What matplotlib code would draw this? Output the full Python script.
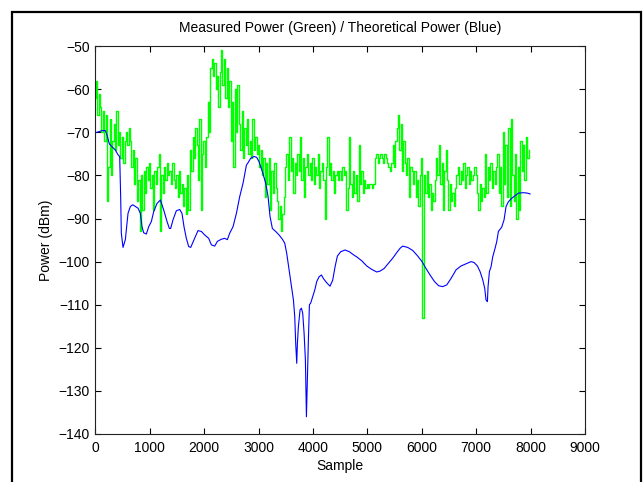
import numpy as np
import matplotlib
matplotlib.use("Agg")
import matplotlib.pyplot as plt
from matplotlib.patches import Rectangle

plt.rcParams['font.family'] = ['Liberation Sans', 'DejaVu Sans']

# ---------------- data ----------------
title = "Measured Power (Green) / Theoretical Power (Blue)"
x_label = "Sample"
y_label = "Power (dBm)"
x_ticks = [0, 1000, 2000, 3000, 4000, 5000, 6000, 7000, 8000, 9000]
y_ticks = [-140, -130, -120, -110, -100, -90, -80, -70, -60, -50]

# measured power, one value every 25 samples starting at sample 0
green_step = 25
measured_power = [
    -62, -58, -66, -61, -64, -70, -65, -72, -66, -86, -78, -67, -80, -72, -68, -74, -65, -73, -70, -76,
    -71, -77, -72, -70, -73, -69, -72, -78, -74, -82, -76, -86, -81, -93, -80, -88, -79, -84, -78, -81,
    -77, -83, -80, -88, -79, -82, -78, -75, -93, -80, -84, -78, -81, -77, -80, -79, -82, -77, -81, -83,
    -80, -85, -79, -84, -82, -87, -83, -89, -80, -88, -74, -79, -71, -76, -69, -73, -81, -67, -88, -75,
    -72, -78, -71, -63, -70, -55, -53, -57, -54, -60, -57, -64, -56, -51, -59, -53, -62, -55, -64, -58,
    -72, -63, -78, -60, -70, -59, -68, -74, -65, -76, -69, -73, -67, -75, -72, -76, -67, -74, -71, -75,
    -73, -78, -74, -80, -76, -85, -77, -82, -76, -88, -79, -84, -77, -83, -86, -90, -87, -93, -89, -85,
    -78, -75, -81, -71, -79, -76, -84, -77, -80, -75, -79, -71, -81, -76, -85, -78, -75, -80, -77, -81,
    -76, -82, -78, -80, -75, -83, -79, -77, -81, -90, -78, -71, -80, -77, -81, -79, -84, -80, -79, -81,
    -79, -81, -78, -80, -79, -88, -83, -71, -82, -85, -79, -84, -80, -86, -73, -82, -79, -84, -81, -83,
    -82, -83, -82, -82, -83, -82, -76, -75, -77, -76, -75, -76, -77, -75, -76, -77, -78, -79, -77, -73,
    -78, -72, -69, -66, -74, -68, -79, -72, -77, -80, -76, -85, -78, -79, -82, -79, -85, -81, -87, -80,
    -76, -113, -80, -84, -79, -85, -82, -88, -84, -86, -81, -76, -80, -73, -82, -77, -88, -79, -74, -81,
    -88, -82, -86, -84, -87, -83, -80, -78, -82, -79, -81, -77, -83, -80, -78, -82, -79, -81, -80, -78,
    -80, -84, -88, -82, -86, -83, -85, -75, -84, -78, -81, -77, -83, -79, -82, -78, -75, -84, -78, -87,
    -70, -82, -73, -85, -69, -87, -67, -80, -86, -75, -90, -78, -88, -72, -79, -73, -81, -71, -76, -74,
]

# theoretical power
theory_sample = [
    0, 123, 185, 215, 258, 320, 368, 417, 448, 466, 478, 509, 552, 601, 644, 687, 736, 785, 828, 858,
    889, 938, 981, 1030, 1073, 1134, 1196, 1257, 1318, 1361, 1385, 1428, 1489, 1551, 1593, 1630, 1673,
    1716, 1753, 1814, 1887, 1949, 2010, 2084, 2133, 2194, 2243, 2317, 2378, 2427, 2470, 2531, 2593,
    2654, 2715, 2777, 2810, 2856, 2917, 2966, 3009, 3070, 3131, 3175, 3211, 3254, 3315, 3376, 3438,
    3481, 3518, 3561, 3604, 3641, 3665, 3683, 3702, 3714, 3732, 3763, 3788, 3812, 3837, 3861, 3880,
    3898, 3916, 3935, 3959, 3996, 4033, 4070, 4113, 4156, 4191, 4252, 4314, 4363, 4406, 4449, 4510,
    4590, 4669, 4743, 4816, 4896, 4988, 5080, 5172, 5233, 5307, 5387, 5466, 5540, 5601, 5649, 5741,
    5833, 5925, 6005, 6078, 6152, 6232, 6311, 6385, 6459, 6538, 6630, 6722, 6814, 6906, 6960, 7022,
    7071, 7120, 7157, 7181, 7206, 7218, 7243, 7273, 7304, 7347, 7377, 7408, 7469, 7512, 7549, 7592,
    7653, 7714, 7775, 7867, 7941, 7990,
]
theory_power = [
    -70.1, -69.6, -69.6, -70.6, -72.7, -73.5, -74.1, -75.2, -75.6, -84.9, -93.4, -96.7, -94.9, -88.8,
    -87.2, -86.8, -87.2, -87.6, -88.8, -91.9, -93.3, -93.6, -91.9, -90.7, -88.4, -86.5, -85.7, -88.0,
    -90.7, -92.3, -92.3, -90.3, -88.2, -87.9, -88.8, -91.9, -94.6, -96.5, -96.7, -94.9, -92.8, -93.0,
    -93.8, -94.6, -96.1, -96.4, -95.3, -94.8, -94.6, -94.9, -93.4, -91.9, -88.8, -84.9, -81.8, -77.6,
    -77.0, -76.0, -75.6, -75.8, -76.8, -79.1, -81.8, -84.9, -89.5, -92.3, -93.0, -93.8, -94.8, -95.7,
    -98.1, -101.9, -105.8, -108.9, -112.7, -119.0, -123.6, -119.0, -115.1, -111.2, -110.8, -112.0,
    -116.6, -122.8, -136.0, -126.7, -118.2, -110.0, -109.6, -108.1, -106.6, -104.6, -103.5, -103.1,
    -103.9, -104.9, -105.7, -104.3, -101.2, -98.7, -97.7, -97.3, -97.7, -98.4, -99.0, -99.8, -101.0,
    -101.8, -102.4, -102.2, -101.6, -100.4, -99.2, -97.9, -96.9, -96.4, -96.7, -97.4, -98.7, -100.0,
    -101.6, -103.1, -104.6, -105.6, -105.8, -105.4, -103.9, -101.9, -101.0, -100.5, -100.0, -100.2,
    -101.0, -102.3, -104.2, -106.2, -108.9, -109.3, -105.8, -102.3, -101.2, -98.9, -96.9, -95.4,
    -93.0, -92.0, -90.3, -87.2, -86.1, -85.3, -84.7, -84.1, -84.0, -84.1, -84.3,
]

green_x = np.arange(len(measured_power)) * green_step

# ---------------- figure ----------------
fig = plt.figure(figsize=(6.44, 4.82), dpi=100, facecolor='white')
ax = fig.add_axes([0.148, 0.0996, 0.7604, 0.8046])

ax.plot(green_x, measured_power, color='#00ff00', lw=1.0, drawstyle='steps-mid')
ax.plot(theory_sample, theory_power, color='#0000ff', lw=0.8)

ax.set_xlim(0, 9000)
ax.set_ylim(-140, -50)
ax.set_xticks(x_ticks)
ax.set_yticks(y_ticks)
ax.tick_params(direction='in', top=True, right=True, length=4, width=0.8,
               labelsize=10, colors='black')
ax.tick_params(axis='x', pad=5)
ax.tick_params(axis='y', pad=4)
for s in ax.spines.values():
    s.set_color('#222222')
    s.set_linewidth(0.8)

ax.set_title(title, fontsize=10, pad=10)
ax.set_xlabel(x_label, fontsize=10, labelpad=3)
ax.set_ylabel(y_label, fontsize=10, labelpad=4)

# outer window border
fig.patches.append(Rectangle((12 / 644, -0.1), (641 - 12) / 644, 1.1 - 12 / 482,
                             transform=fig.transFigure, fill=False,
                             edgecolor='black', linewidth=1.6))

fig.savefig('out.png', dpi=100, facecolor='white')
